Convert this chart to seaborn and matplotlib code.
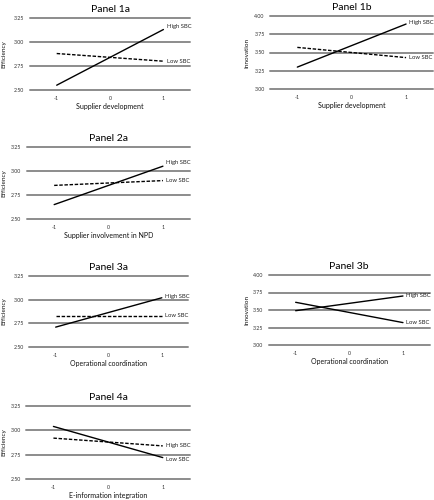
import matplotlib
matplotlib.use("Agg")
import matplotlib.pyplot as plt
import matplotlib.transforms as mtransforms
import seaborn as sns
import pandas as pd

sns.set_theme(style="white")
plt.rcParams["font.family"] = ["Lato", "DejaVu Sans"]

# ---- data ----
x_levels = [-1, 1]
xticks = [-1, 0, 1]

titles = ["Panel 1a", "Panel 1b", "Panel 2a", "Panel 3a", "Panel 3b", "Panel 4a"]
xlabels = ["Supplier development", "Supplier development", "Supplier involvement in NPD",
           "Operational coordination", "Operational coordination", "E-information integration"]
ylabels = ["Efficiency", "Innovation", "Efficiency", "Efficiency", "Innovation", "Efficiency"]

eff_ticks = [2.50, 2.75, 3.00, 3.25]
inn_ticks = [3.00, 3.25, 3.50, 3.75, 4.00]

high_1a = [2.55, 3.13]
low_1a = [2.88, 2.80]
high_1b = [3.30, 3.89]
low_1b = [3.57, 3.43]
high_2a = [2.65, 3.05]
low_2a = [2.85, 2.90]
high_3a = [2.71, 3.02]
low_3a = [2.83, 2.83]
high_3b = [3.49, 3.70]
low_3b = [3.61, 3.32]
high_4a = [2.92, 2.84]
low_4a = [3.04, 2.72]

# line style per series in each panel (True = dashed)
high_dashed = [False, False, False, False, False, True]
low_dashed = [True, True, True, True, False, False]

# label vertical positions
high_label_y = [3.16, 3.91, 3.09, 3.03, 3.70, 2.84]
low_label_y = [2.80, 3.43, 2.90, 2.83, 3.32, 2.70]

highs = [high_1a, high_1b, high_2a, high_3a, high_3b, high_4a]
lows = [low_1a, low_1b, low_2a, low_3a, low_3b, low_4a]
yticks_list = [eff_ticks, inn_ticks, eff_ticks, eff_ticks, inn_ticks, eff_ticks]

# axes rectangles (figure fractions)
rects = [
    [0.069, 0.820, 0.368, 0.144],
    [0.621, 0.822, 0.375, 0.146],
    [0.062, 0.562, 0.375, 0.144],
    [0.067, 0.306, 0.366, 0.142],
    [0.618, 0.310, 0.370, 0.140],
    [0.060, 0.042, 0.377, 0.146],
]
# y-label horizontal position (figure fraction) per panel
ylabel_x = [0.010, 0.568, 0.010, 0.010, 0.568, 0.009]

W, H = 435, 500
fig = plt.figure(figsize=(4.35, 5.0), dpi=100)
fig.patch.set_facecolor("white")

for i in range(6):
    ax = fig.add_axes(rects[i])
    df = pd.DataFrame({
        "x": x_levels + x_levels,
        "y": highs[i] + lows[i],
        "series": ["High SBC"] * 2 + ["Low SBC"] * 2,
    })
    dashes = {"High SBC": (2.5, 1.2) if high_dashed[i] else "",
              "Low SBC": (2.5, 1.2) if low_dashed[i] else ""}
    sns.lineplot(data=df, x="x", y="y", style="series", dashes=dashes,
                 color="black", linewidth=1.0, ax=ax, legend=False,
                 estimator=None, sort=False)
    yt = yticks_list[i]
    ax.set_xlim(-1.5, 1.5)
    ax.set_ylim(yt[0], yt[-1])
    ax.set_xticks(xticks)
    ax.set_xticklabels([str(v) for v in xticks])
    ax.set_yticks(yt)
    ax.set_yticklabels([f"{v:.2f}" for v in yt])
    ax.tick_params(axis="both", length=0, labelsize=3.8, colors="#333333")
    ax.tick_params(axis="y", pad=4)
    ax.tick_params(axis="x", pad=4)
    for s in ax.spines.values():
        s.set_visible(False)
    ax.grid(axis="y", color="#8c8c8c", linewidth=1.4)
    ax.grid(axis="x", visible=False)
    for gl in ax.get_ygridlines():
        gl.set_clip_on(False)
    ax.set_axisbelow(True)
    ax.set_title(titles[i], fontsize=7.5, pad=4, color="black")

    ax.set_xlabel(xlabels[i], fontsize=5, color="#111111")
    ax.xaxis.label.set_va("center")
    ax.xaxis.set_label_coords(0.5, -16.5 / (rects[i][3] * H))

    ax.set_ylabel(ylabels[i], fontsize=4.6, color="#111111")
    ax.yaxis.label.set_va("center")
    ax.yaxis.set_label_coords(ylabel_x[i], 0.5,
                              transform=mtransforms.blended_transform_factory(fig.transFigure, ax.transAxes))

    ax.text(1.06, high_label_y[i], "High SBC", fontsize=4.2, ha="left", va="center", color="#222222")
    ax.text(1.06, low_label_y[i], "Low SBC", fontsize=4.2, ha="left", va="center", color="#222222")

fig.savefig("out.png", dpi=100, facecolor="white")
